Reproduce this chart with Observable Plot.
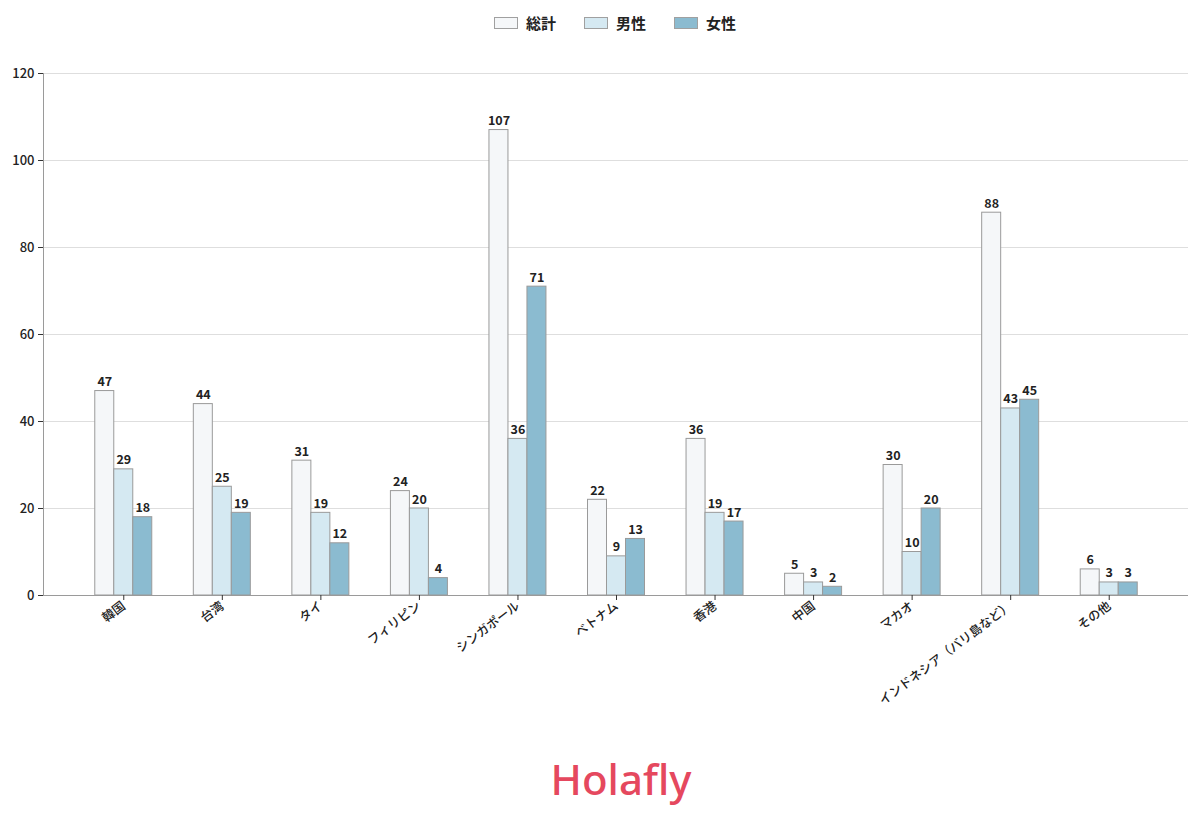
<!DOCTYPE html>
<html>
<head>
<meta charset="utf-8">
<script src="https://cdn.jsdelivr.net/npm/d3@7"></script>
<script src="https://cdn.jsdelivr.net/npm/@observablehq/plot@0.6"></script>
<style>
  body { margin: 0; background: #fff; font-family: "Noto Sans CJK JP", "Noto Sans", sans-serif; }
  #legend { height: 45px; display: flex; justify-content: center; align-items: center; padding-left: 30px; box-sizing: border-box; width: 1200px; }
  .item { display: flex; align-items: center; margin: 0 14px; font-size: 15px; font-weight: 700; color: #222; }
  .sw { width: 22px; height: 10px; border: 1px solid #a0a0a0; margin-right: 8px; }
  #logo { width: 1200px; height: 66px; display: flex; justify-content: center; align-items: center; padding-left: 42px; box-sizing: border-box; font-family: "Noto Sans", sans-serif; font-size: 42px; font-weight: 500; color: #e5485e; letter-spacing: 0px; }
</style>
</head>
<body>
<div id="legend"></div>
<div id="chart"></div>
<div id="logo">Holafly</div>
<script>
const countries = ["韓国","台湾","タイ","フィリピン","シンガポール","ベトナム","香港","中国","マカオ","インドネシア（バリ島など）","その他"];
const total  = [47, 44, 31, 24, 107, 22, 36, 5, 30, 88, 6];
const male   = [29, 25, 19, 20, 36, 9, 19, 3, 10, 43, 3];
const female = [18, 19, 12, 4, 71, 13, 17, 2, 20, 45, 3];
const seriesNames = ["総計", "男性", "女性"];
const seriesColors = ["#f5f7f9", "#d5e9f2", "#8bbbd0"];
const yTicks = [0, 20, 40, 60, 80, 100, 120];

const data = countries.map((c, i) => ({country: c, total: total[i], male: male[i], female: female[i]}));
const keys = ["total", "male", "female"];

// legend
const legend = document.getElementById("legend");
seriesNames.forEach((n, i) => {
  const it = document.createElement("div");
  it.className = "item";
  const sw = document.createElement("div");
  sw.className = "sw";
  sw.style.background = seriesColors[i];
  it.appendChild(sw);
  const t = document.createElement("span");
  t.textContent = n;
  it.appendChild(t);
  legend.appendChild(it);
});

const barW = 19;
const step = (1158 - 74) / 11;
const pad = 1 - barW / step;
const marks = [
  Plot.gridY(yTicks, {stroke: "#dedede", strokeOpacity: 1}),
  Plot.ruleY([0], {stroke: "#9a9a9a"}),
  Plot.frame({anchor: "left", stroke: "#9a9a9a"}),
];
keys.forEach((k, i) => {
  marks.push(Plot.barY(data, {x: "country", y: k, fill: seriesColors[i], stroke: "#9a9a9a", strokeWidth: 1, dx: (i - 1) * barW}));
});
keys.forEach((k, i) => {
  marks.push(Plot.text(data, {x: "country", y: k, text: d => String(d[k]), dx: (i - 1) * barW, dy: -5, lineAnchor: "bottom", fontSize: 12.5, fontWeight: 700, fill: "#222"}));
});
marks.push(Plot.axisY({ticks: yTicks, tickSize: 5, tickPadding: 4, fontSize: 13, fontWeight: 500, label: null, stroke: "#333", fill: "#222"}));
marks.push(Plot.axisX({tickSize: 5, tickRotate: -37, tickPadding: 4, fontSize: 12.5, fontWeight: 500, label: null, stroke: "#333", fill: "#222"}));

const chart = Plot.plot({
  width: 1200,
  height: 700,
  marginTop: 28,
  marginBottom: 150,
  marginLeft: 43,
  marginRight: 12,
  style: {fontFamily: "'Noto Sans CJK JP', sans-serif", background: "transparent"},
  x: {domain: countries, range: [74, 1158], round: false, paddingInner: pad, paddingOuter: pad / 2, align: 0.5},
  y: {domain: [0, 120], range: [550, 28]},
  marks
});
document.getElementById("chart").appendChild(chart);
</script>
</body>
</html>
